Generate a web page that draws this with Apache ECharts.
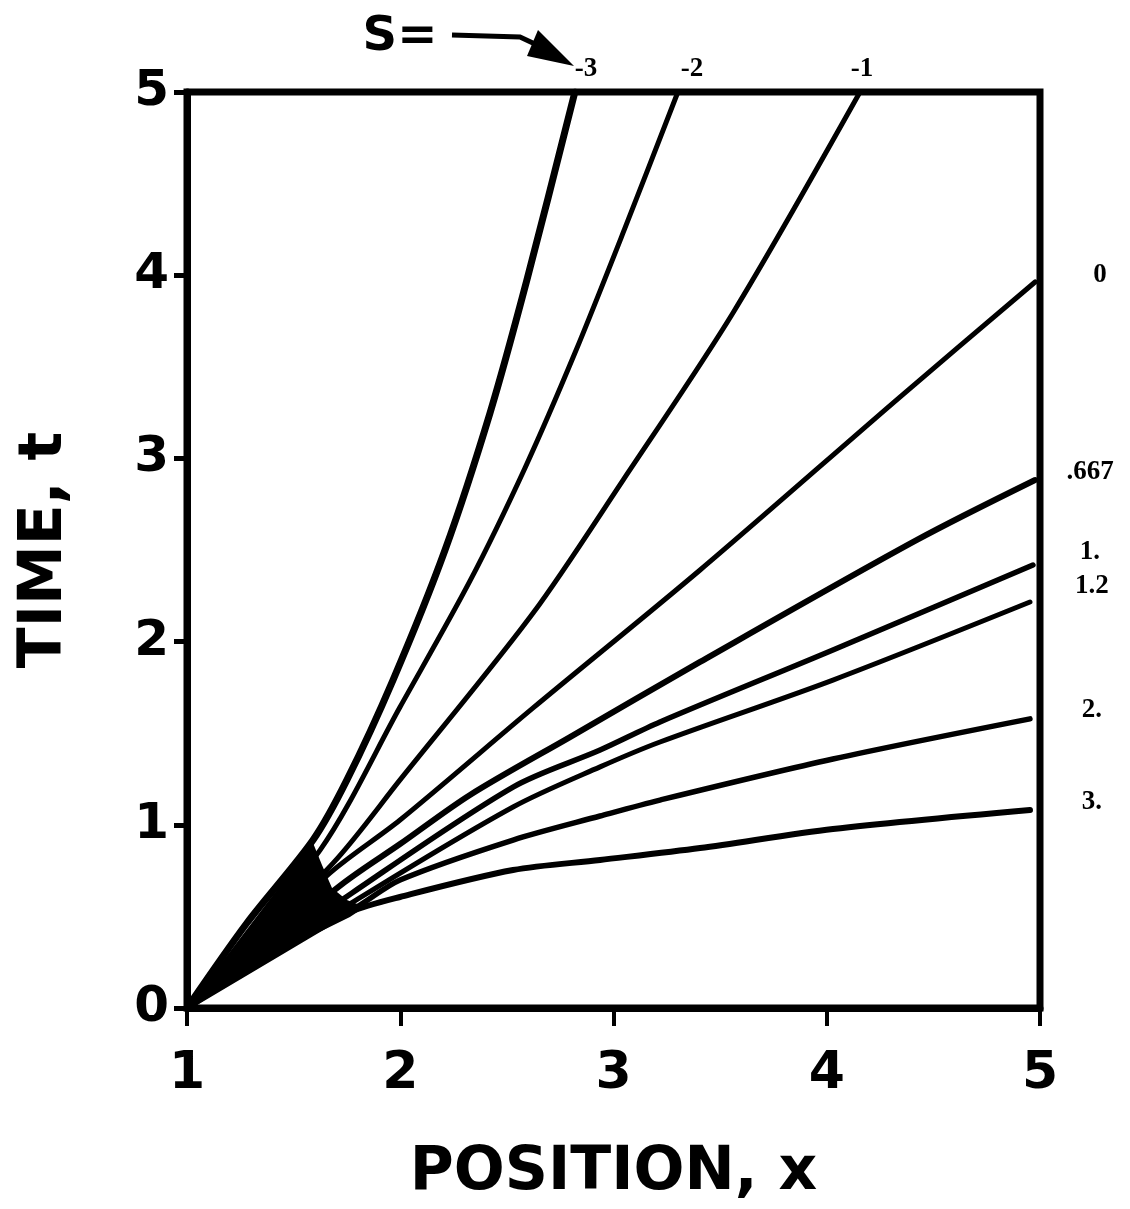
<!DOCTYPE html>
<html>
<head>
<meta charset="utf-8">
<script src="https://cdn.jsdelivr.net/npm/echarts@6/dist/echarts.min.js"></script>
<style>
html,body{margin:0;padding:0;background:#fff;}
#chart{width:1130px;height:1209px;}
</style>
</head>
<body>
<div id="chart"></div>
<script>
// ---- data ----
const xTicks = [1, 2, 3, 4, 5];
const tTicks = [0, 1, 2, 3, 4, 5];
const sLabels = ['-3', '-2', '-1', '0', '.667', '1.', '1.2', '2.', '3.'];

const x_sm3 = [1, 1.281, 1.591, 1.750, 1.966, 2.210, 2.421, 2.594, 2.819];
const t_sm3 = [0, 0.464, 0.917, 1.245, 1.790, 2.500, 3.248, 3.974, 5.0];
const x_sm2 = [1, 1.624, 1.999, 2.327, 2.585, 2.819, 3.054, 3.302];
const t_sm2 = [0, 0.862, 1.643, 2.331, 2.948, 3.575, 4.258, 5.0];
const x_sm1 = [1, 1.685, 1.999, 2.623, 3.045, 3.560, 4.156];
const t_sm1 = [0, 0.791, 1.245, 2.156, 2.882, 3.794, 5.0];
const x_s0 = [1, 1.671, 1.999, 2.623, 3.406, 4.343, 4.977];
const t_s0 = [0, 0.737, 1.026, 1.638, 2.391, 3.335, 3.963];
const x_s0667 = [1, 1.741, 1.999, 2.327, 2.796, 3.406, 4.423, 4.977];
const t_s0667 = [0, 0.688, 0.895, 1.163, 1.479, 1.889, 2.555, 2.882];
const x_s1 = [1, 1.774, 2.529, 2.937, 3.218, 4.029, 4.967];
const t_s1 = [0, 0.628, 1.206, 1.408, 1.561, 1.954, 2.418];
const x_s12 = [1, 1.802, 2.529, 2.937, 3.218, 4.029, 4.953];
const t_s12 = [0, 0.595, 1.097, 1.316, 1.452, 1.790, 2.216];
const x_s2 = [1, 1.811, 1.999, 2.529, 2.937, 3.218, 4.029, 4.953];
const t_s2 = [0, 0.562, 0.699, 0.917, 1.048, 1.135, 1.359, 1.578];
const x_s3 = [1, 1.450, 1.764, 1.999, 2.529, 2.937, 3.406, 4.029, 4.953];
const t_s3 = [0, 0.333, 0.524, 0.606, 0.753, 0.808, 0.873, 0.977, 1.081];

// dense black region where the curves overlap near the origin
const wedgeX = [1, 1.375, 1.591, 1.633, 1.680, 1.750, 1.835, 1.764, 1.450];
const wedgeT = [0, 0.573, 0.901, 0.781, 0.655, 0.590, 0.551, 0.497, 0.317];

// ---- styling ----
const curveX = [x_sm3, x_sm2, x_sm1, x_s0, x_s0667, x_s1, x_s12, x_s2, x_s3];
const curveT = [t_sm3, t_sm2, t_sm1, t_s0, t_s0667, t_s1, t_s12, t_s2, t_s3];
const widths = [7, 5, 5, 5, 6, 5.5, 5, 5.5, 6];
// label offsets (px) from each curve's end point
const labelOffsets = [[11, -23], [14, -23], [2, -23], [65, -7], [55, -8], [57, -13], [62, -16], [62, -9], [62, -8]];

const pairs = (xs, ts) => xs.map((x, i) => [x, ts[i]]);

const heavy = { fontFamily: 'DejaVu Sans', fontWeight: 'bold', color: '#000' };

const series = curveX.map((xs, i) => ({
  name: 's=' + sLabels[i],
  type: 'line',
  data: pairs(xs, curveT[i]),
  smooth: 0.3,
  symbol: 'none',
  lineStyle: { color: '#000', width: widths[i], cap: 'round', join: 'round' },
  z: 3
}));

series.unshift({
  name: 'overlap',
  type: 'custom',
  data: [[1, 0]],
  z: 4,
  renderItem: function (params, api) {
    const pts = wedgeX.map((x, i) => api.coord([x, wedgeT[i]]));
    return { type: 'polygon', shape: { points: pts }, style: { fill: '#000' } };
  }
});

const chart = echarts.init(document.getElementById('chart'), null, { renderer: 'canvas' });

chart.setOption({
  animation: false,
  backgroundColor: '#fff',
  grid: {
    left: 187, right: 90, top: 92, bottom: 201,
    containLabel: false, outerBoundsMode: 'none',
    show: true, borderColor: '#000', borderWidth: 7
  },
  xAxis: {
    type: 'value', min: 1, max: 5, interval: 1,
    name: 'POSITION, x', nameLocation: 'middle', nameGap: 135,
    nameTextStyle: Object.assign({ fontSize: 60 }, heavy),
    axisLine: { show: true, lineStyle: { color: '#000', width: 7 } },
    axisTick: { show: true, inside: false, length: 18, lineStyle: { color: '#000', width: 4 } },
    axisLabel: Object.assign({ fontSize: 52, margin: 40, formatter: v => xTicks.includes(v) ? String(v) : '' }, heavy),
    splitLine: { show: false }
  },
  yAxis: {
    type: 'value', min: 0, max: 5, interval: 1,
    name: 'TIME, t', nameLocation: 'middle', nameGap: 112, nameRotate: 90,
    nameTextStyle: Object.assign({ fontSize: 60 }, heavy),
    axisLine: { show: true, lineStyle: { color: '#000', width: 7 } },
    axisTick: { show: true, inside: false, length: 13, lineStyle: { color: '#000', width: 5 } },
    axisLabel: Object.assign({ fontSize: 50, margin: 18, formatter: v => tTicks.includes(v) ? String(v) : '' }, heavy),
    splitLine: { show: false }
  },
  series: series
});

// curve labels placed from each curve's last data point
const graphics = [];
curveX.forEach((xs, i) => {
  const last = [xs[xs.length - 1], curveT[i][curveT[i].length - 1]];
  const p = chart.convertToPixel({ gridIndex: 0 }, last);
  graphics.push({
    type: 'text',
    x: p[0] + labelOffsets[i][0],
    y: p[1] + labelOffsets[i][1],
    style: {
      text: sLabels[i], fill: '#000', font: 'bold 27px "Liberation Serif"',
      textAlign: 'center', textVerticalAlign: 'middle'
    },
    z: 10
  });
});
// "S=" with arrow pointing at the first label
graphics.push({
  type: 'text', x: 400, y: 38,
  style: { text: 'S=', fill: '#000', font: 'bold 48px "DejaVu Sans"', textAlign: 'center', textVerticalAlign: 'middle' },
  z: 10
});
graphics.push({
  type: 'polyline',
  shape: { points: [[452, 35], [520, 37], [552, 52]] },
  style: { stroke: '#000', lineWidth: 5, fill: null },
  z: 10
});
graphics.push({
  type: 'polygon',
  shape: { points: [[574, 66], [538, 30], [527, 56]] },
  style: { fill: '#000' },
  z: 10
});
chart.setOption({ graphic: graphics });
</script>
</body>
</html>
